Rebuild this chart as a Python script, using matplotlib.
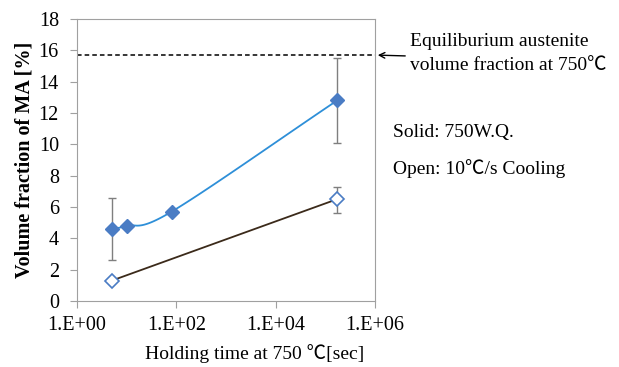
import numpy as np
import matplotlib.pyplot as plt

plt.rcParams['font.family'] = ['Liberation Serif', 'Noto Sans CJK JP', 'DejaVu Serif']

# solid: 750 W.Q.
t_solid = [5, 10, 80, 172800]
v_solid = [4.6, 4.8, 5.7, 12.8]
err_solid_lo = [2.0, 0, 0, 2.7]
err_solid_hi = [2.0, 0, 0, 2.7]

# open: 10 C/s cooling
t_open = [5, 172800]
v_open = [1.3, 6.5]
err_open_lo = [0, 0.9]
err_open_hi = [0, 0.8]

eq_frac = 15.7


def catmull_rom(x, y, n=40):
    x = np.asarray(x, float)
    y = np.asarray(y, float)
    px = np.concatenate([[2 * x[0] - x[1]], x, [2 * x[-1] - x[-2]]])
    py = np.concatenate([[2 * y[0] - y[1]], y, [2 * y[-1] - y[-2]]])
    xs, ys = [], []
    for i in range(1, len(px) - 2):
        s = np.linspace(0, 1, n)
        for arr, out in ((px, xs), (py, ys)):
            p0, p1, p2, p3 = arr[i - 1:i + 3]
            out.extend(0.5 * (2 * p1 + (-p0 + p2) * s
                              + (2 * p0 - 5 * p1 + 4 * p2 - p3) * s ** 2
                              + (-p0 + 3 * p1 - 3 * p2 + p3) * s ** 3))
    return np.array(xs), np.array(ys)


fig = plt.figure(figsize=(6.19, 3.67), dpi=100)
ax = fig.add_axes([0.1244, 0.1798, 0.4814, 0.7684])

# smoothed line through solid points (in log x)
lx, ly = catmull_rom(np.log10(t_solid), v_solid)
ax.plot(10 ** lx, ly, color='#2e8fd8', lw=1.3, zorder=2)
ax.plot(t_open, v_open, color='#3b2a1a', lw=1.3, zorder=2)

ax.errorbar(t_solid, v_solid, yerr=[err_solid_lo, err_solid_hi], fmt='none',
            ecolor='#7f7f7f', elinewidth=1, capsize=3, zorder=1)
ax.errorbar(t_open, v_open, yerr=[err_open_lo, err_open_hi], fmt='none',
            ecolor='#7f7f7f', elinewidth=1, capsize=3, zorder=1)

ax.plot(t_solid, v_solid, 'D', ms=7, color='#4a7cc4', mec='#4a7cc4', ls='none', zorder=3)
ax.plot(t_open, v_open, 'D', ms=7, mfc='white', mec='#4a7cc4', mew=1.2, ls='none', zorder=3)

ax.axhline(eq_frac, color='black', ls=(0, (3, 2)), lw=1.1, zorder=1)

ax.set_xscale('log')
ax.set_xlim(1, 1e6)
ax.set_ylim(0, 18)
ax.set_xticks([1, 1e2, 1e4, 1e6])
ax.set_xticklabels(['1.E+00', '1.E+02', '1.E+04', '1.E+06'])
ax.xaxis.set_minor_locator(plt.NullLocator())
ax.set_yticks(range(0, 19, 2))
ax.tick_params(labelsize=14.5, color='#a0a0a0', length=5, direction='out')
ax.tick_params(axis='y', pad=8)
ax.tick_params(axis='x', pad=6)
for sp in ax.spines.values():
    sp.set_color('#a0a0a0')

ax.set_ylabel('Volume fraction of MA [%]', fontsize=14.5, fontweight='bold', labelpad=3)
fig.text(255 / 619, 1 - 354 / 367, 'Holding time at 750 \u2103[sec]',
         fontsize=14, ha='center', va='center')

fig.text(410 / 619, 1 - 42 / 367, 'Equiliburium austenite',
         fontsize=14, va='center', ha='left')
fig.text(410 / 619, 1 - 65 / 367, 'volume fraction at 750\u2103',
         fontsize=14, va='center', ha='left')
ax.annotate('', xy=(1e6, eq_frac), xytext=(408 / 619, 1 - 56 / 367),
            textcoords='figure fraction',
            arrowprops=dict(arrowstyle='->', color='black', lw=1))

fig.text(393 / 619, 1 - 133 / 367, 'Solid: 750W.Q.', fontsize=14, va='center')
fig.text(393 / 619, 1 - 169 / 367, 'Open: 10\u2103/s Cooling', fontsize=14, va='center')

fig.savefig('out.png', dpi=100)
